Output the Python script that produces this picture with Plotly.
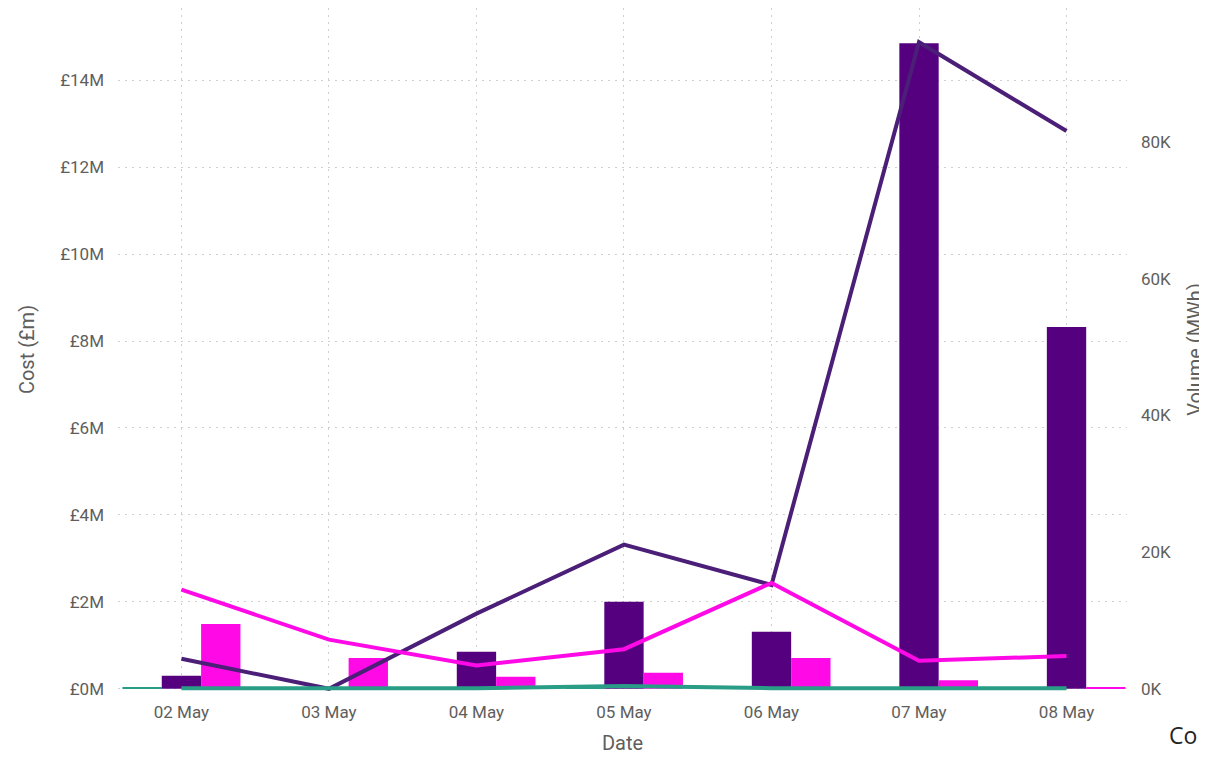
import plotly.graph_objects as go

dates = ["02 May", "03 May", "04 May", "05 May", "06 May", "07 May", "08 May"]

# cost bars (£M)
cost_teal = [0.02, 0.02, 0.02, 0.03, 0.02, 0.02, 0.02]
cost_purple = [0.30, 0.0, 0.85, 2.00, 1.31, 14.85, 8.32]
cost_magenta = [1.49, 0.71, 0.28, 0.37, 0.71, 0.20, 0.02]

# volume lines (K MWh)
vol_purple = [4.4, 0.0, 11.0, 21.1, 15.2, 94.6, 81.6]
vol_magenta = [14.5, 7.2, 3.4, 5.8, 15.5, 4.1, 4.8]
vol_teal = [0.1, 0.1, 0.1, 0.4, 0.1, 0.1, 0.1]

cost_ticks = [0, 2, 4, 6, 8, 10, 12, 14]
cost_labels = ["£0M", "£2M", "£4M", "£6M", "£8M", "£10M", "£12M", "£14M"]
vol_ticks = [0, 20, 40, 60, 80]
vol_labels = ["0K", "20K", "40K", "60K", "80K"]

TEAL = "#2A9D87"
PURPLE_BAR = "#55007F"
PURPLE_LINE = "#4B1F78"
MAGENTA = "#FF0AE6"
GRID = "#CFCFCF"
TXT = "#605E5C"

fig = go.Figure()

for vals, col in [(cost_teal, TEAL), (cost_purple, PURPLE_BAR), (cost_magenta, MAGENTA)]:
    fig.add_trace(go.Bar(x=dates, y=vals, marker=dict(color=col, line=dict(width=0)),
                         yaxis="y", showlegend=False))

for vals, col in [(vol_purple, PURPLE_LINE), (vol_magenta, MAGENTA), (vol_teal, TEAL)]:
    fig.add_trace(go.Scatter(x=dates, y=vals, mode="lines", line=dict(color=col, width=4),
                             yaxis="y2", showlegend=False))

# cut-off visual title in the bottom-right corner
fig.add_annotation(text="Co", xref="paper", yref="paper", x=1.04, y=-0.064,
                   xanchor="left", yanchor="middle", showarrow=False,
                   font=dict(family="Open Sans", size=23, color="#252423"))

# small negative floor so lines sitting on zero are not clipped (same fraction on both axes)
pad = 0.0032
fig.update_layout(
    width=1199, height=749,
    margin=dict(l=110, r=80, t=0, b=66),
    paper_bgcolor="white", plot_bgcolor="white",
    font=dict(family="Roboto", color=TXT, size=16),
    barmode="group", bargap=0.2, bargroupgap=0,
    xaxis=dict(range=[-0.43, 6.41], showgrid=True, gridcolor=GRID, griddash="2px,5px",
               gridwidth=1, showline=False, zeroline=False, ticks="",
               tickfont=dict(size=17, color=TXT), ticklabelstandoff=9,
               title=dict(text="Date", font=dict(size=20, color=TXT), standoff=14),
               automargin=False),
    yaxis=dict(range=[-15.66 * pad, 15.66], tickmode="array", tickvals=cost_ticks,
               ticktext=cost_labels, showgrid=True, gridcolor=GRID, griddash="2px,5px",
               gridwidth=1, zeroline=False, showline=False, ticks="",
               tickfont=dict(size=17, color=TXT), ticklabelstandoff=13,
               title=dict(text="Cost (£m)", font=dict(size=20, color=TXT), standoff=20),
               automargin=False),
    yaxis2=dict(range=[-99.6 * pad, 99.6], tickmode="array", tickvals=vol_ticks,
                ticktext=vol_labels, overlaying="y", side="right", showgrid=False,
                zeroline=False, showline=False, ticks="",
                tickfont=dict(size=17, color=TXT), ticklabelstandoff=13,
                title=dict(text="Volume (MWh)", font=dict(size=20, color=TXT), standoff=18),
                automargin=False),
)

fig.write_html("out.html")
